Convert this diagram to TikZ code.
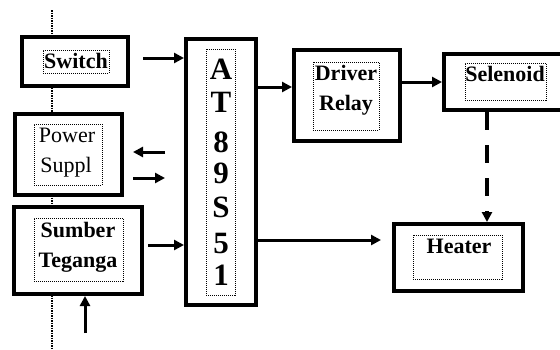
\documentclass[tikz,border=0pt]{standalone}
\usepackage{fontspec}
\setmainfont{Liberation Serif}
\usetikzlibrary{arrows.meta}
\begin{document}
\begin{tikzpicture}[x=1pt,y=-1pt,
  outerbox/.style={draw, line width=4pt, fill=white, inner sep=0pt},
  innerbox/.style={draw, densely dotted, line width=1pt, inner sep=0pt},
  lbl/.style={anchor=base, inner sep=0pt, font=\fontsize{22}{26}\selectfont\bfseries},
  lblr/.style={anchor=base, inner sep=0pt, font=\fontsize{22}{26}\selectfont},
  big/.style={anchor=base, inner sep=0pt, font=\fontsize{31}{34}\selectfont\bfseries},
  conn/.style={line width=3pt, -{Triangle[length=10pt,width=10pt]}},
  dconn/.style={line width=3.5pt, dash pattern=on 18pt off 15pt, -{Triangle[length=10pt,width=10pt]}}]
\useasboundingbox (0,0) rectangle (560,349);
% dotted guide line
\coordinate (gtop) at (52,10);
\coordinate (gbot) at (52,349);
\draw[densely dotted, line width=1.5pt] (gtop) -- (gbot);
% outer boxes
\node[outerbox, minimum width=106, minimum height=49] (sw) at (75,61.5) {};
\node[outerbox, minimum width=107, minimum height=81] (ps) at (68.5,154.5) {};
\node[outerbox, minimum width=128, minimum height=87] (st) at (78,250.5) {};
\node[outerbox, minimum width=70, minimum height=266] (at) at (221,172) {};
\node[outerbox, minimum width=106, minimum height=91] (dr) at (347,95.5) {};
\node[outerbox, minimum width=156, minimum height=56] (se) at (522,82) {};
\node[outerbox, minimum width=129, minimum height=67] (he) at (458.5,257.5) {};
% inner dotted boxes
\node[innerbox, minimum width=66, minimum height=23] (swi) at (76,61.5) {};
\node[innerbox, minimum width=68, minimum height=61] (psi) at (68,154.5) {};
\node[innerbox, minimum width=89, minimum height=63] (sti) at (78.5,249.5) {};
\node[innerbox, minimum width=29, minimum height=246] (ati) at (220.5,172) {};
\node[innerbox, minimum width=66, minimum height=68] (dri) at (346,96) {};
\node[innerbox, minimum width=81, minimum height=37] (sei) at (505.5,81.5) {};
\node[innerbox, minimum width=89, minimum height=44] (hei) at (457.5,257) {};
% labels
\node[lbl] (tsw) at (76,68.5) {Switch};
\node[lblr] (tps1) at (67,142) {Power};
\node[lblr] (tps2) at (66,172) {Suppl};
\node[lbl] (tst1) at (78,237) {Sumber};
\node[lbl] (tst2) at (78,267) {Teganga};
\node[lbl] (tdr1) at (346,80) {Driver};
\node[lbl] (tdr2) at (346,110) {Relay};
\node[lbl] (tse) at (505,81) {Selenoid};
\node[lbl] (the) at (459,253) {Heater};
\node[big] (c1) at (221,79) {A};
\node[big] (c2) at (221,112) {T};
\node[big] (c3) at (221,152) {8};
\node[big] (c4) at (221,183) {9};
\node[big] (c5) at (221,217) {S};
\node[big] (c6) at (221,253) {5};
\node[big] (c7) at (221,285) {1};
% connector end coordinates
\coordinate (swa) at (143,58);
\coordinate (psl1) at (165,152);
\coordinate (psl2) at (133,152);
\coordinate (psr1) at (133,178);
\coordinate (psr2) at (165,178);
\coordinate (sta) at (148,245);
\coordinate (upa) at (85,333);
% connectors
\draw[conn] (swa) -- (swa -| at.west);
\draw[conn] (psl1) -- (psl2);
\draw[conn] (psr1) -- (psr2);
\draw[conn] (sta) -- (sta -| at.west);
\draw[conn] (upa) -- (upa |- st.south);
\draw[conn] (at.east |- 0,87) -- (dr.west |- 0,87);
\draw[conn] (at.east |- 0,240) -- (381,240);
\draw[conn] (dr.east |- 0,82) -- (se.west |- 0,82);
\draw[dconn] (487,112) -- (487,222);
\end{tikzpicture}
\end{document}
